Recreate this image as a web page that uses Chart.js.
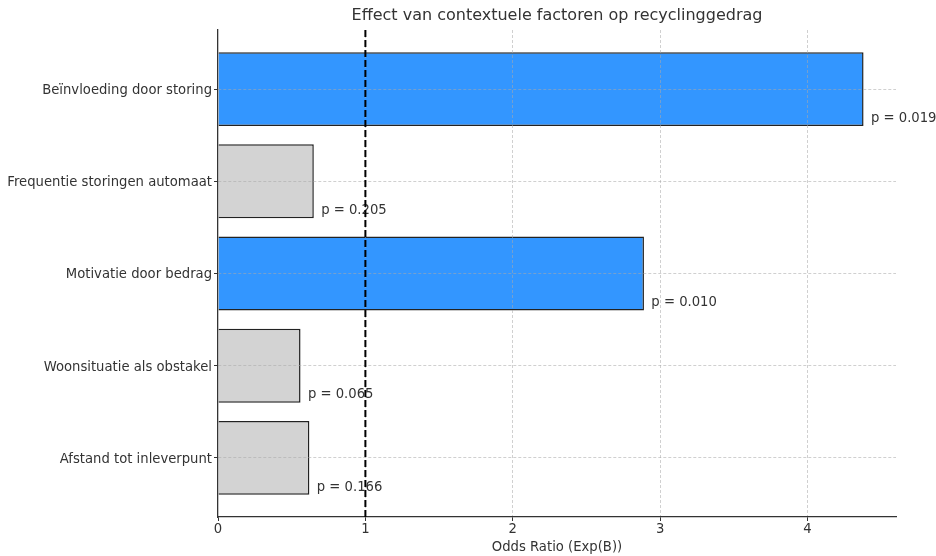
<!DOCTYPE html>
<html>
<head>
<meta charset="utf-8">
<script src="https://cdn.jsdelivr.net/npm/chart.js@4"></script>
<style>
  html, body { margin: 0; padding: 0; background: #fff; }
  #wrap { width: 936px; height: 556px; }
</style>
</head>
<body>
<div id="wrap"><canvas id="orChart" width="936" height="556"></canvas></div>
<script>
  // categories top to bottom, as in the figure
  const categories = [
    "Beïnvloeding door storing",
    "Frequentie storingen automaat",
    "Motivatie door bedrag",
    "Woonsituatie als obstakel",
    "Afstand tot inleverpunt"
  ];
  const oddsRatios = [4.38, 0.65, 2.89, 0.56, 0.62];
  const pValues = [0.019, 0.205, 0.010, 0.065, 0.166];
  const xTicks = [0, 1, 2, 3, 4];

  const chartTitle = "Effect van contextuele factoren op recyclinggedrag";
  const xTitle = "Odds Ratio (Exp(B))";

  const font = "'DejaVu Sans', sans-serif";
  const textColor = '#333';
  const n = categories.length;

  // bottom category sits at y = 0
  const points = oddsRatios.map((v, i) => ({ x: v, y: n - 1 - i }));
  const barColors = pValues.map(p => p < 0.05 ? '#3396ff' : '#d3d3d3');

  const extras = {
    id: 'extras',
    afterDraw(chart) {
      const { ctx, chartArea, scales: { x, y } } = chart;
      ctx.save();
      // p-value labels next to the bars
      ctx.font = `13.2px ${font}`;
      ctx.fillStyle = textColor;
      ctx.textAlign = 'left';
      ctx.textBaseline = 'middle';
      points.forEach((pt, i) => {
        ctx.fillText(`p = ${pValues[i].toFixed(3)}`,
          x.getPixelForValue(pt.x + 0.05), y.getPixelForValue(pt.y - 0.3) + 1.5);
      });
      // reference line at OR = 1
      const x1 = x.getPixelForValue(1);
      ctx.strokeStyle = '#000';
      ctx.lineWidth = 2;
      ctx.setLineDash([7, 3]);
      ctx.beginPath();
      ctx.moveTo(x1, chartArea.top);
      ctx.lineTo(x1, chartArea.bottom);
      ctx.stroke();
      // title
      ctx.setLineDash([]);
      ctx.font = `16px ${font}`;
      ctx.textAlign = 'center';
      ctx.fillText(chartTitle, (chartArea.left + chartArea.right) / 2, 16);
      ctx.restore();
    }
  };

  new Chart(document.getElementById("orChart"), {
    type: 'bar',
    data: {
      datasets: [{
        data: points,
        backgroundColor: barColors,
        borderColor: '#222',
        borderWidth: 1.5,
        barPercentage: 0.8,
        categoryPercentage: 1
      }]
    },
    options: {
      indexAxis: 'y',
      responsive: false,
      animation: false,
      layout: { padding: { top: 30, right: 40, left: 0, bottom: 0 } },
      scales: {
        x: {
          type: 'linear',
          min: 0,
          max: 4.6,
          afterBuildTicks: s => { s.ticks = xTicks.map(v => ({ value: v })); },
          afterFit: s => { s.height = 39; },
          ticks: { color: textColor, font: { family: font, size: 13.2 }, padding: 1 },
          grid: {
            z: 1,
            color: c => c.tick && c.tick.value === 0 ? 'rgba(0,0,0,0)' : 'rgba(170,170,170,0.55)',
            lineWidth: 1,
            tickLength: 4,
            tickColor: '#333',
            tickBorderDash: []
          },
          border: { z: 1, color: '#333', width: 1.3, dash: [3, 2] },
          title: {
            display: true, text: xTitle, color: textColor,
            font: { family: font, size: 13.2 }, padding: { top: 0, bottom: 1 }
          }
        },
        y: {
          type: 'linear',
          offset: false,
          min: -0.64,
          max: n - 1 + 0.64,
          afterBuildTicks: s => { s.ticks = categories.map((c, i) => ({ value: i })); },
          afterFit: s => { s.width = 218; },
          ticks: {
            color: textColor, font: { family: font, size: 13.2 }, padding: 2,
            labelOffset: 1.5,
            callback: v => categories[n - 1 - v]
          },
          grid: {
            z: 1,
            offset: false,
            color: 'rgba(170,170,170,0.55)',
            lineWidth: 1,
            tickLength: 4,
            tickColor: '#333',
            tickBorderDash: []
          },
          border: { z: 1, color: '#333', width: 1.3, dash: [3, 2] }
        }
      },
      plugins: {
        legend: { display: false },
        title: { display: false },
        tooltip: { enabled: false }
      }
    },
    plugins: [extras]
  });
</script>
</body>
</html>
